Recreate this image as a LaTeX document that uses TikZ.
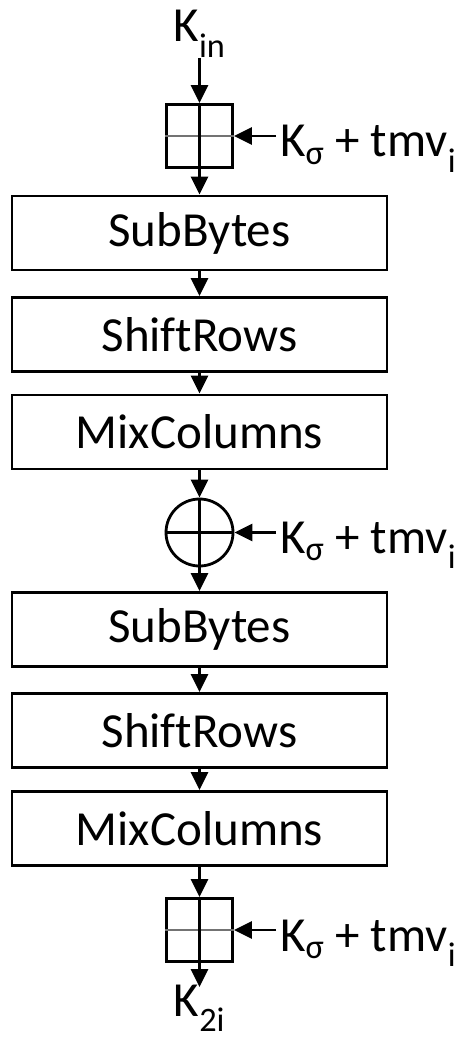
\documentclass[tikz,border=0pt]{standalone}
\usepackage{fontspec}
\setmainfont[Ligatures=NoCommon]{Carlito}
\usetikzlibrary{arrows.meta}
\begin{document}
\begin{tikzpicture}[x=1pt,y=-1pt,
 bigfont/.style={font=\fontsize{49}{58}\selectfont},
 blk/.style={draw, line width=2.8pt, minimum width=375pt, minimum height=74pt, inner sep=0pt, bigfont},
 sq/.style={draw, line width=2.8pt, minimum width=66pt, minimum height=63pt, inner sep=0pt},
 xorc/.style={draw, circle, line width=2.8pt, minimum size=67pt, inner sep=0pt},
 lbl/.style={bigfont, inner sep=0pt},
 conn/.style={line width=2.8pt, -{Triangle[length=18pt,width=17pt]}},
 ln/.style={line width=2.8pt},
 greyln/.style={line width=1.8pt, draw=black!55}]
\useasboundingbox (0,0) rectangle (465,1040);
\node[lbl, anchor=base] (kin) at (199.5,42) {K\textsubscript{in}};
\coordinate (kt) at (199.5,58);
\node[sq] (s1) at (199.5,136) {};
\node[blk] (b1) at (199.5,233) {SubBytes};
\node[blk] (b2) at (199.5,334.5) {ShiftRows};
\node[blk] (b3) at (199.5,432) {MixColumns};
\node[xorc] (x) at (199.5,532.5) {};
\node[blk] (b4) at (199.5,629.5) {SubBytes};
\node[blk] (b5) at (199.5,730.5) {ShiftRows};
\node[blk] (b6) at (199.5,828.5) {MixColumns};
\node[sq] (s2) at (199.5,930) {};
\coordinate (kb) at (199.5,987);
\node[lbl, anchor=base] (kout) at (199.5,1016) {K\textsubscript{2i}};
% side labels
\node[lbl, anchor=base west] (l1) at (280,157) {K\textsubscript{σ} + tmv\textsubscript{i}};
\node[lbl, anchor=base west] (l2) at (280,553) {K\textsubscript{σ} + tmv\textsubscript{i}};
\node[lbl, anchor=base west] (l3) at (280,951) {K\textsubscript{σ} + tmv\textsubscript{i}};
% square internals
\draw[greyln] (s1.west) -- (s1.east);
\draw[greyln] (s2.west) -- (s2.east);
\draw[ln] (s1.north) -- (s1.south);
\draw[ln] (s2.north) -- (s2.south);
\draw[ln] (x.west) -- (x.east);
\draw[ln] (x.north) -- (x.south);
% connectors
\draw[conn] (kt) -- (s1.north);
\draw[conn] (s1.south) -- (b1.north);
\draw[conn] (b1.south) -- (b2.north);
\draw[conn] (b2.south) -- (b3.north);
\draw[conn] (b3.south) -- (x.north);
\draw[conn] (x.south) -- (b4.north);
\draw[conn] (b4.south) -- (b5.north);
\draw[conn] (b5.south) -- (b6.north);
\draw[conn] (b6.south) -- (s2.north);
\draw[conn] (s2.south) -- (kb);
\draw[conn] ([xshift=-4pt]l1.west |- s1.east) -- (s1.east);
\draw[conn] ([xshift=-4pt]l2.west |- x.east) -- (x.east);
\draw[conn] ([xshift=-4pt]l3.west |- s2.east) -- (s2.east);
\end{tikzpicture}
\end{document}
